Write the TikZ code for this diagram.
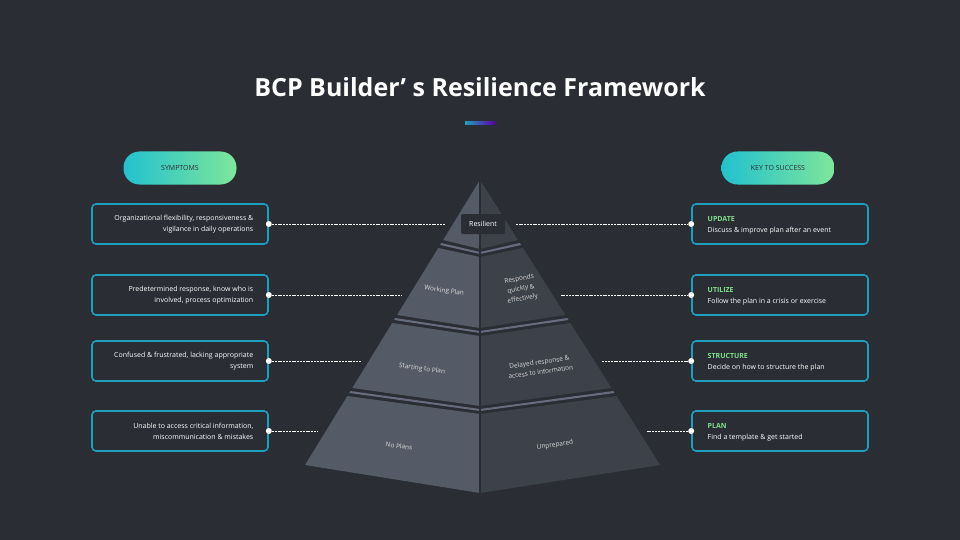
\documentclass[tikz,border=0pt]{standalone}
\usepackage{fontspec}
\setmainfont{Open Sans}
\usetikzlibrary{positioning,calc}
\definecolor{bg}{HTML}{2B2D35}
\definecolor{faceL}{HTML}{555B66}
\definecolor{faceR}{HTML}{3D414A}
\definecolor{strip}{HTML}{666B7D}
\definecolor{cyanb}{HTML}{1F9FBF}
\definecolor{pillA}{HTML}{22C1CF}
\definecolor{pillB}{HTML}{7EE69A}
\definecolor{keygreen}{HTML}{7FE08A}
\tikzset{
  symbox/.style={draw=cyanb, line width=1.6pt, rounded corners=4pt, minimum width=176pt, minimum height=40pt, inner sep=0pt},
  pill/.style={rounded corners=16pt, minimum width=113pt, minimum height=33pt, font=\fontsize{7}{8}\selectfont, text=bg, left color=pillA, right color=pillB},
  symtext/.style={text=white, font=\fontsize{7}{11}\selectfont, align=right},
  keytext/.style={text=white, font=\fontsize{7}{11}\selectfont, align=left},
  lvl/.style={text=white!85!black, font=\fontsize{6.5}{10}\selectfont, align=center},
  link/.style={white, dashed, dash pattern=on 2pt off 0.8pt, line width=1pt},
  dot/.style={circle, fill=white, inner sep=0pt, minimum size=6pt}
}
\newcommand{\xl}[1]{480-0.614*(#1-180)}
\newcommand{\xr}[1]{480+0.632*(#1-180)}
\begin{document}
\begin{tikzpicture}[x=1pt,y=-1pt]
  \fill[bg] (0,0) rectangle (960,540);
  \useasboundingbox (0,0) rectangle (960,540);
  % title
  \node[text=white, font=\bfseries\fontsize{25}{28}\selectfont] (title) at (480,87) {BCP Builder’ s Resilience Framework};
  \shade[left color=cyanb, right color=violet!70!blue] (465,122) rectangle (495,125);
  % pyramid bands: top, bottom, dip top, dip bottom
  \foreach \t/\b/\dt/\db [count=\i] in {180/240/0/9, 248/315/9/13, 323/388/13/18, 396/465/18/28}{
    \ifnum\i>1
      \fill[strip] ({\xl{\t-5}},\t-5) -- (480,\t-5+\dt) -- ({\xr{\t-5}},\t-5) -- ({\xr{\t-3}},\t-3) -- (480,\t-3+\dt) -- ({\xl{\t-3}},\t-3) -- cycle;
    \fi
    \fill[faceL] ({\xl{\t}},\t) -- (480,\t+\dt) -- (480,\b+\db) -- ({\xl{\b}},\b) -- cycle;
    \fill[faceR] ({\xr{\t}},\t) -- (480,\t+\dt) -- (480,\b+\db) -- ({\xr{\b}},\b) -- cycle;
  }
  \draw[bg, line width=1.5pt] (480,180) -- (480,493);
  % pyramid labels
  \node[fill=bg, rounded corners=2pt, text=white, font=\fontsize{7}{8}\selectfont, minimum width=44pt, minimum height=20pt] (resilient) at (483,224) {Resilient};
  \node[lvl, rotate=-8] (working) at (444,291) {Working Plan};
  \node[lvl, rotate=10] (responds) at (521,289) {Responds\\quickly \&\\effectively};
  \node[lvl, rotate=-8] (starting) at (422,369) {Starting to Plan};
  \node[lvl, rotate=8] (delayed) at (540,367) {Delayed response \&\\access to information};
  \node[lvl, rotate=-8] (noplans) at (399,446) {No Plans};
  \node[lvl, rotate=8] (unprep) at (555,445) {Unprepared};
  % headers
  \node[pill] (symptoms) at (180,168) {SYMPTOMS};
  \node[pill] (keys) at (778,168) {KEY TO SUCCESS};
  % left boxes
  \foreach \y/\txt [count=\i] in {224/{Organizational flexibility, responsiveness \&\\vigilance in daily operations},
      295/{Predetermined response, know who is\\involved, process optimization},
      361/{Confused \& frustrated, lacking appropriate\\system},
      431/{Unable to access critical information,\\miscommunication \& mistakes}}{
    \node[symbox] (sym\i) at (180,\y) {};
    \node[symtext, anchor=east] (symt\i) at ([xshift=-12pt]sym\i.east) {\txt};
    \node[dot] (symd\i) at (sym\i.east) {};
    \coordinate (pl\i) at ({\xl{\y}-8},\y);
    \draw[link] (symd\i) -- (pl\i);
  }
  % right boxes
  \foreach \y/\hd/\txt [count=\i] in {224/UPDATE/{Discuss \& improve plan after an event},
      295/UTILIZE/{Follow the plan in a crisis or exercise},
      361/STRUCTURE/{Decide on how to structure the plan},
      431/PLAN/{Find a template \& get started}}{
    \node[symbox] (key\i) at (780,\y) {};
    \node[keytext, anchor=west] (keyt\i) at ([xshift=13pt,yshift=-1pt]key\i.west) {{\color{keygreen}\bfseries\hd}\\\txt};
    \node[dot] (keyd\i) at (key\i.west) {};
    \coordinate (pr\i) at ({\xr{\y}+8},\y);
    \draw[link] (pr\i) -- (keyd\i);
  }
\end{tikzpicture}
\end{document}
